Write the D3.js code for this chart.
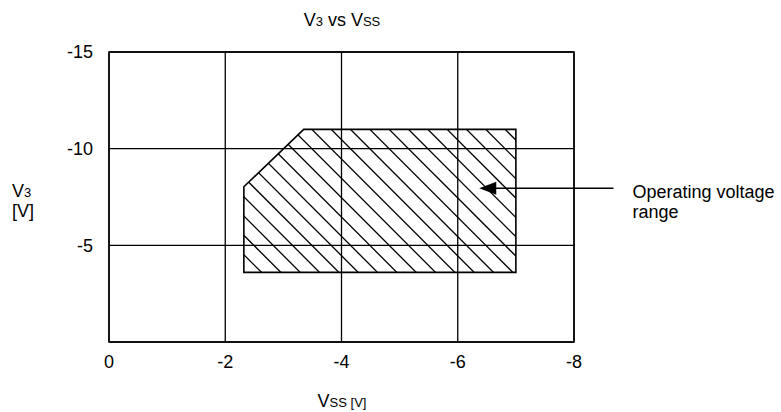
<!DOCTYPE html>
<html>
<head>
<meta charset="utf-8">
<script src="https://cdn.jsdelivr.net/npm/d3@7"></script>
<style>
  html, body { margin: 0; padding: 0; background: #fff; }
  svg { display: block; font-family: "Liberation Sans", Arial, sans-serif; }
</style>
</head>
<body>
<svg id="chart" width="781" height="412"></svg>
<script>
// ---- data ----
const xTicks = [0, -2, -4, -6, -8];
const yTicks = [-15, -10, -5];
const yGrid = [-15, -10, -5, 0];
const regionVss = [-2.32, -2.32, -3.35, -7.0, -7.0];
const regionV3  = [-3.6, -8.03, -11.0, -11.0, -3.6];
const arrowTip  = [-6.37, -7.95];
const arrowTail = [-8.68, -7.95];
const annotationLines = ["Operating voltage", "range"];

// ---- layout ----
const W = 781, H = 412;
const x = d3.scaleLinear().domain([0, -8]).range([109, 574]);
const y = d3.scaleLinear().domain([0, -15]).range([342, 52]);
const svg = d3.select("#chart");
const FS = 18, FSsub = 13;

// grid
const g = svg.append("g");
g.selectAll(".vg").data(xTicks).join("line")
  .attr("x1", d => x(d)).attr("x2", d => x(d))
  .attr("y1", y(0)).attr("y2", y(-15))
  .attr("stroke", "#000").attr("stroke-width", 1.3);
g.selectAll(".hg").data(yGrid).join("line")
  .attr("x1", x(0)).attr("x2", x(-8))
  .attr("y1", d => y(d)).attr("y2", d => y(d))
  .attr("stroke", "#000").attr("stroke-width", 1.3);

// region polygon
const pts = regionVss.map((v, i) => [x(v), y(regionV3[i])]);
const defs = svg.append("defs");
defs.append("clipPath").attr("id", "regclip")
  .append("polygon").attr("points", pts.map(p => p.join(",")).join(" "));

// hatch lines (45 deg, down-right), clipped to region
const hatch = svg.append("g").attr("clip-path", "url(#regclip)");
const spacing = 19.33, phase = 8.5;
const hl = [];
for (let c = phase - 40 * spacing; c < W; c += spacing) hl.push(c);
hatch.selectAll("line").data(hl).join("line")
  .attr("x1", c => c).attr("y1", 0)
  .attr("x2", c => c + H).attr("y2", H)
  .attr("stroke", "#000").attr("stroke-width", 1.3);

svg.append("polygon")
  .attr("points", pts.map(p => p.join(",")).join(" "))
  .attr("fill", "none").attr("stroke", "#000").attr("stroke-width", 1.6);

// frame
svg.append("rect")
  .attr("x", x(0)).attr("y", y(-15))
  .attr("width", x(-8) - x(0)).attr("height", y(0) - y(-15))
  .attr("fill", "none").attr("stroke", "#000").attr("stroke-width", 1.5);

// tick labels
svg.selectAll(".xt").data(xTicks).join("text")
  .attr("x", d => x(d)).attr("y", 368)
  .attr("text-anchor", "middle").attr("font-size", FS).attr("fill", "#000")
  .text(d => d === 0 ? "0" : "-" + Math.abs(d));
svg.selectAll(".yt").data(yTicks).join("text")
  .attr("x", 93).attr("y", d => y(d) + 6.4)
  .attr("text-anchor", "end").attr("font-size", FS).attr("fill", "#000")
  .text(d => "-" + Math.abs(d));

// title
const t = svg.append("text").attr("x", 342).attr("y", 26)
  .attr("text-anchor", "middle").attr("font-size", FS).attr("fill", "#000");
t.append("tspan").text("V");
t.append("tspan").attr("font-size", FSsub).text("3");
t.append("tspan").text(" vs V");
t.append("tspan").attr("font-size", FSsub).text("SS");

// y axis label
const yl = svg.append("text").attr("x", 12).attr("y", 197)
  .attr("font-size", FS).attr("fill", "#000");
yl.append("tspan").text("V");
yl.append("tspan").attr("font-size", FSsub).text("3");
svg.append("text").attr("x", 12).attr("y", 217)
  .attr("font-size", FS).attr("fill", "#000").text("[V]");

// x axis label
const xl = svg.append("text").attr("x", 342).attr("y", 407)
  .attr("text-anchor", "middle").attr("font-size", FS).attr("fill", "#000");
xl.append("tspan").text("V");
xl.append("tspan").attr("font-size", FSsub).text("SS [V]");

// arrow annotation
const tip = [x(arrowTip[0]), y(arrowTip[1])];
const tail = [x(arrowTail[0]), y(arrowTail[1])];
const headLen = 17, headHalf = 6.5;
svg.append("line")
  .attr("x1", tip[0] + headLen - 1).attr("y1", tip[1])
  .attr("x2", tail[0]).attr("y2", tail[1])
  .attr("stroke", "#000").attr("stroke-width", 1.5);
svg.append("polygon")
  .attr("points", [[tip[0], tip[1]], [tip[0] + headLen, tip[1] - headHalf], [tip[0] + headLen, tip[1] + headHalf]].map(p => p.join(",")).join(" "))
  .attr("fill", "#000");
svg.selectAll(".ann").data(annotationLines).join("text")
  .attr("x", tail[0] + 19).attr("y", (d, i) => tail[1] + 9.5 + i * 20)
  .attr("font-size", FS).attr("fill", "#000")
  .text(d => d);
</script>
</body>
</html>
